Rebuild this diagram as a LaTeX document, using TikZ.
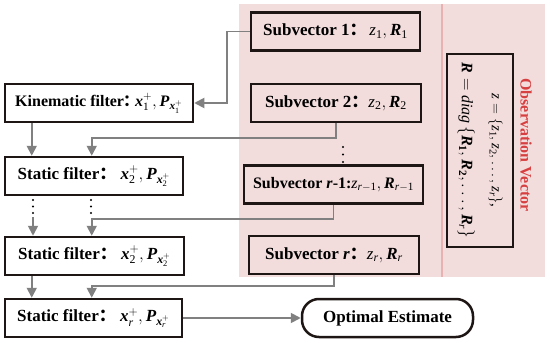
\documentclass[tikz,border=0pt]{standalone}
\usepackage{fontspec}
\usepackage{amsmath}
\setmainfont{Liberation Serif}
\newfontfamily\cjk{Noto Sans CJK SC}
\usetikzlibrary{arrows.meta,calc}
\definecolor{pinkbg}{RGB}{243,220,220}
\definecolor{pinkline}{RGB}{232,178,178}
\definecolor{obsred}{RGB}{214,64,64}
\definecolor{conngray}{RGB}{128,128,128}
\definecolor{boxline}{RGB}{30,22,20}
\newcommand{\bx}{\textbf{\textit{x}}}
\newcommand{\bP}{\textbf{\textit{P}}}
\newcommand{\bR}{\textbf{\textit{R}}}
\newcommand{\iz}{\textnormal{\textit{z}}}
\newcommand{\ir}{\textnormal{\textit{r}}}
\newcommand{\nn}[1]{\textnormal{#1}}
\newcommand{\fcolon}{{\cjk ：}}
\begin{document}
\begin{tikzpicture}[x=1pt,y=-1pt,
  fbox/.style={draw=boxline, line width=2.5pt, fill=white, inner sep=1pt,
    minimum height=38pt, font=\bfseries\fontsize{17}{20}\selectfont},
  sbox/.style={fbox, fill=pinkbg},
  conn/.style={draw=conngray, line width=1.8pt},
  arr/.style={conn, -{Triangle[length=10pt,width=10pt]}}
]
\useasboundingbox (0,0) rectangle (550,343);
% background
\fill[pinkbg] (239,4) rectangle (545,277);
\draw[pinkline, line width=2pt] (442,4) -- (442,277);

% subvector boxes
\node[sbox, minimum width=169pt] (sub1) at (335.5,31.5) {Subvector 1\fcolon\,$\iz_{\nn{1}}, \bR_{\nn{1}}$};
\node[sbox, minimum width=170pt] (sub2) at (336,103) {Subvector 2\fcolon$\iz_{\nn{2}}, \bR_{\nn{2}}$};
\node[sbox, minimum width=179pt, font=\bfseries\fontsize{16}{20}\selectfont] (subr1) at (333.5,184.5) {Subvector \textit{r}-1:$\iz_{\ir-\nn{1}}, \bR_{\ir-\nn{1}}$};
\node[sbox, minimum width=170pt] (subr) at (334,255) {Subvector \textit{r}\fcolon$\iz_{\ir}, \bR_{\ir}$};

% observation box
\node[draw=boxline, line width=2.5pt, fill=pinkbg, rotate=-90, minimum width=193pt, minimum height=66pt,
  align=center, font=\fontsize{15}{30}\selectfont] (obs) at (480,150.5)
  {$\iz=\{\iz_{\nn{1}},\iz_{\nn{2}},\dots,\iz_{\ir}\}$,\\
   {\fontsize{16}{30}\selectfont$\bR=\textit{diag}\,\{\bR_{\nn{\textbf{1}}},\bR_{\nn{\textbf{2}}},\dots,\bR_{\ir}\}$}};
\node[rotate=-90, text=obsred, font=\bfseries\fontsize{16}{18}\selectfont] (obslab) at (526,145) {Observation Vector};

% filter boxes
\node[fbox, minimum width=188pt, font=\bfseries\fontsize{16}{20}\selectfont] (kin) at (99,103) {Kinematic filter\hspace{-1pt}\fcolon\hspace{-4pt}$\bx_{\nn{1}}^{+}, \bP_{\bx_{\nn{1}}^{+}}$};
\node[fbox, minimum width=178pt] (st1) at (94,176) {Static filter\fcolon\ $\bx_{\nn{2}}^{+}, \bP_{\bx_{\nn{2}}^{+}}$};
\node[fbox, minimum width=179pt] (st2) at (94.5,256) {Static filter\fcolon\ $\bx_{\nn{2}}^{+}, \bP_{\bx_{\nn{2}}^{+}}$};
\node[fbox, minimum width=177pt] (str) at (93.5,318) {Static filter\fcolon\ $\bx_{\ir}^{+}, \bP_{\bx_{\ir}^{+}}$};

% optimal estimate
\node[fbox, rounded corners=17pt, minimum width=171pt] (opt) at (387.5,318) {Optimal Estimate};

% connectors
\draw[arr] (sub1.west) -- ++(-23,0) |- (kin.east);
\coordinate (k1) at ($(kin.south west)+(28,0)$);
\draw[arr] (k1) -- (k1 |- st1.north);
\coordinate (s1t) at ($(st1.north west)+(88,0)$);
\draw[arr] (sub2.south) -- ++(0,15) -| (s1t);

% dots
\foreach \yy in {200,206.5,213} {
  \fill (33,\yy) circle (1.2pt);
  \fill (91,\yy) circle (1.2pt);
}
\foreach \yy in {147,154.5,162} {
  \fill (343,\yy) circle (1.2pt);
}
\coordinate (l2) at (33,217);
\draw[arr] (l2) -- (l2 |- st2.north);
\coordinate (s2t) at ($(st2.north west)+(88,0)$);
\draw[arr] (subr1.south) -- ++(0,14) -| (s2t);

\coordinate (k3) at ($(st2.south west)+(28,0)$);
\draw[arr] (k3) -- (k3 |- str.north);
\coordinate (srt) at ($(str.north west)+(88,0)$);
\draw[arr] (subr.south) -- ++(0,11) -| (srt);

\draw[arr] (str.east) -- (opt.west);
\end{tikzpicture}
\end{document}
